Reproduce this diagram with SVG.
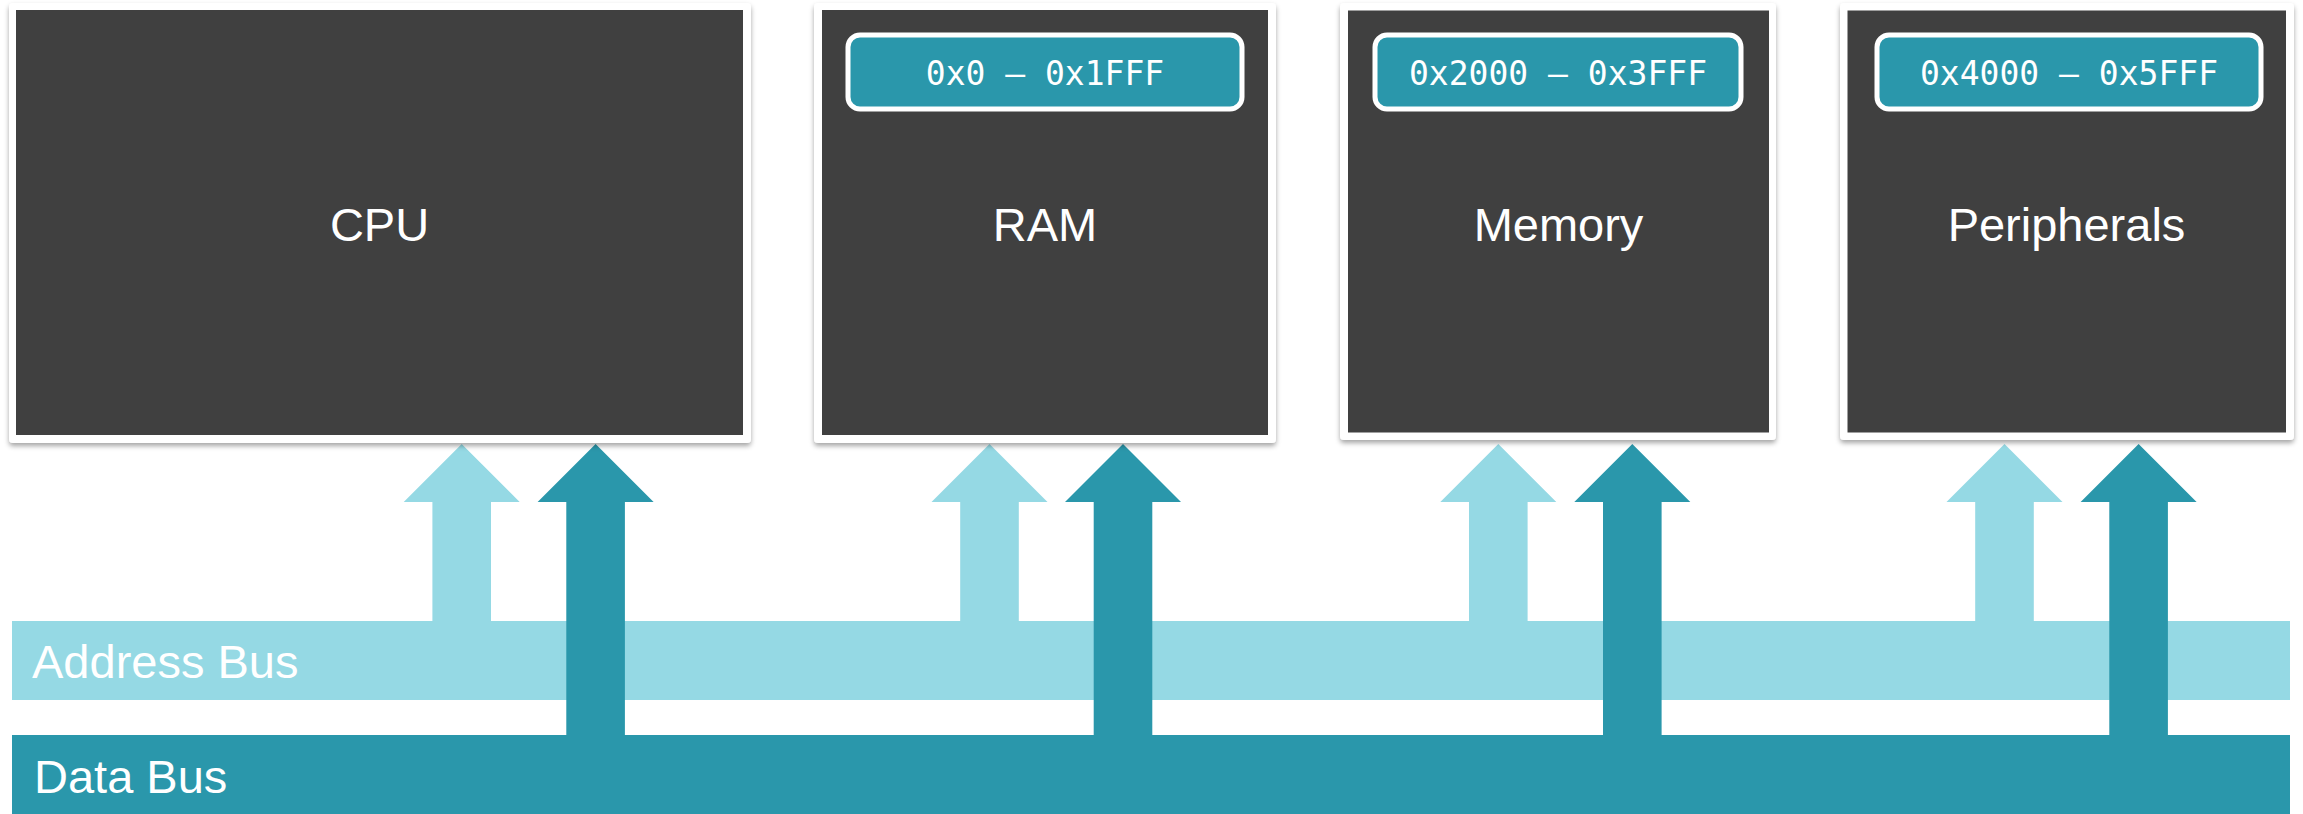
<svg xmlns="http://www.w3.org/2000/svg" width="2303" height="814" viewBox="0 0 2303 814">
<style>
.frame{fill:#ffffff;filter:url(#sh)}
.body{fill:#404040}
.tag{fill:#2A97AB;stroke:#ffffff;stroke-width:5}
.title{font-family:"Liberation Sans",Arial,sans-serif;font-size:47px;fill:#ffffff;text-anchor:middle}
.addr{font-family:"DejaVu Sans Mono","Liberation Mono",monospace;font-size:33px;fill:#ffffff;text-anchor:middle}
.bus{font-family:"Liberation Sans",Arial,sans-serif;font-size:47px;fill:#ffffff}
.light{fill:#95D9E4}
.dark{fill:#2A97AB}
</style>
<defs>
<filter id="sh" x="-5%" y="-5%" width="110%" height="112%">
<feDropShadow dx="0" dy="3" stdDeviation="2.5" flood-color="#000000" flood-opacity="0.35"/>
</filter>
</defs>
<rect width="2303" height="814" fill="#ffffff"/>

<g id="address-bus">
<rect class="light" x="12" y="621" width="2278" height="79"/>
<text class="bus" x="32" y="678">Address Bus</text>
</g>

<g id="connectors">
<polygon class="light" points="461.7,444 519.7,502 491,502 491,622 432.4,622 432.4,502 403.7,502"/>
<polygon class="light" points="989.5,444 1047.5,502 1018.8,502 1018.8,622 960.2,622 960.2,502 931.5,502"/>
<polygon class="light" points="1498.3,444 1556.3,502 1527.6,502 1527.6,622 1469,622 1469,502 1440.3,502"/>
<polygon class="light" points="2004.5,444 2062.5,502 2033.8,502 2033.8,622 1975.2,622 1975.2,502 1946.5,502"/>
<polygon class="dark" points="595.6,444 653.6,502 624.9,502 624.9,736 566.3,736 566.3,502 537.6,502"/>
<polygon class="dark" points="1123,444 1181,502 1152.3,502 1152.3,736 1093.7,736 1093.7,502 1065,502"/>
<polygon class="dark" points="1632.3,444 1690.3,502 1661.6,502 1661.6,736 1603,736 1603,502 1574.3,502"/>
<polygon class="dark" points="2138.6,444 2196.6,502 2167.9,502 2167.9,736 2109.3,736 2109.3,502 2080.6,502"/>
</g>

<g id="data-bus">
<rect class="dark" x="12" y="735" width="2278" height="79"/>
<text class="bus" x="34" y="793">Data Bus</text>
</g>

<g id="cpu">
<rect class="frame" x="9" y="3" width="742" height="440" rx="4"/>
<rect class="body" x="16" y="10" width="727" height="425"/>
<text class="title" x="379.5" y="240.5">CPU</text>
</g>

<g id="ram">
<rect class="frame" x="814" y="3" width="462" height="440" rx="4"/>
<rect class="body" x="822" y="10" width="446" height="425"/>
<rect class="tag" x="848" y="35" width="394" height="74" rx="12"/>
<text class="addr" x="1045" y="85">0x0 – 0x1FFF</text>
<text class="title" x="1045" y="240.5">RAM</text>
</g>

<g id="memory">
<rect class="frame" x="1340" y="3" width="436" height="437" rx="4"/>
<rect class="body" x="1348" y="10.5" width="421" height="422"/>
<rect class="tag" x="1375" y="35" width="366" height="74" rx="12"/>
<text class="addr" x="1558" y="85">0x2000 – 0x3FFF</text>
<text class="title" x="1558.5" y="240.5">Memory</text>
</g>

<g id="peripherals">
<rect class="frame" x="1840" y="3" width="454" height="437" rx="4"/>
<rect class="body" x="1847.5" y="10.5" width="438.5" height="422"/>
<rect class="tag" x="1877" y="35" width="384" height="74" rx="12"/>
<text class="addr" x="2069" y="85">0x4000 – 0x5FFF</text>
<text class="title" x="2066.5" y="240.5">Peripherals</text>
</g>
</svg>
